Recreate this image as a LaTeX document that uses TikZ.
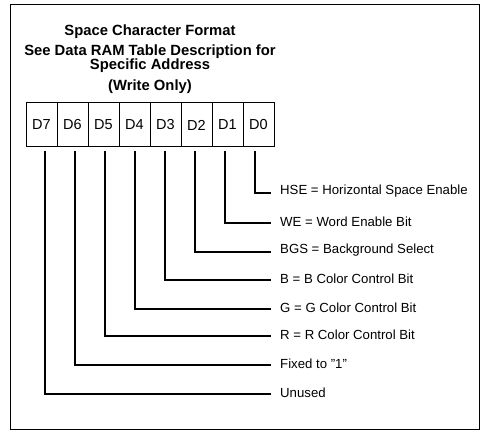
\documentclass[tikz,border=0pt]{standalone}
\usepackage{fontspec}
\setmainfont{Liberation Sans}
\begin{document}
\begin{tikzpicture}[x=1pt,y=-1pt,
  cell/.style={draw,line width=1pt,minimum width=31pt,minimum height=44pt,inner sep=0pt,font=\fontsize{14.5}{14.5}\selectfont},
  lbl/.style={anchor=west,inner sep=0pt,font=\fontsize{13.2}{13.2}\selectfont},
  conn/.style={line width=1.3pt},
  ttl/.style={font=\bfseries\fontsize{14.8}{14.8}\selectfont,inner sep=0pt}]
\useasboundingbox (0,0) rectangle (483,430);
\draw[line width=0.9pt] (10,4) rectangle (479,429);
\node[ttl] (t1) at (150,32) {Space Character Format};
\node[ttl] (t2) at (150,52) {See Data RAM Table Description for};
\node[ttl] (t3) at (150,65.5) {Specific Address};
\node[ttl] (t4) at (150,87) {(Write Only)};
\foreach \i [count=\k from 0] in {7,6,5,4,3,2,1,0}
  \node[cell] (d\i) at ({41.5+31*\k},125) {D\i};
\foreach \i/\yy/\txt in {0/193/{HSE = Horizontal Space Enable},1/223/{WE = Word Enable Bit},2/252/{BGS = Background Select},3/280/{B = B Color Control Bit},4/309/{G = G Color Control Bit},5/336/{R = R Color Control Bit},6/365/{Fixed to \char34 1\char34},7/394/{Unused}}{
  \node[lbl] (l\i) at (280,\yy-1.5) {\txt};
  \coordinate (c\i) at (271,\yy);
  \draw[conn] ([xshift={(\i-3.5)*1pt},yshift=-4pt]d\i.south) |- (c\i);
}
\end{tikzpicture}
\end{document}
